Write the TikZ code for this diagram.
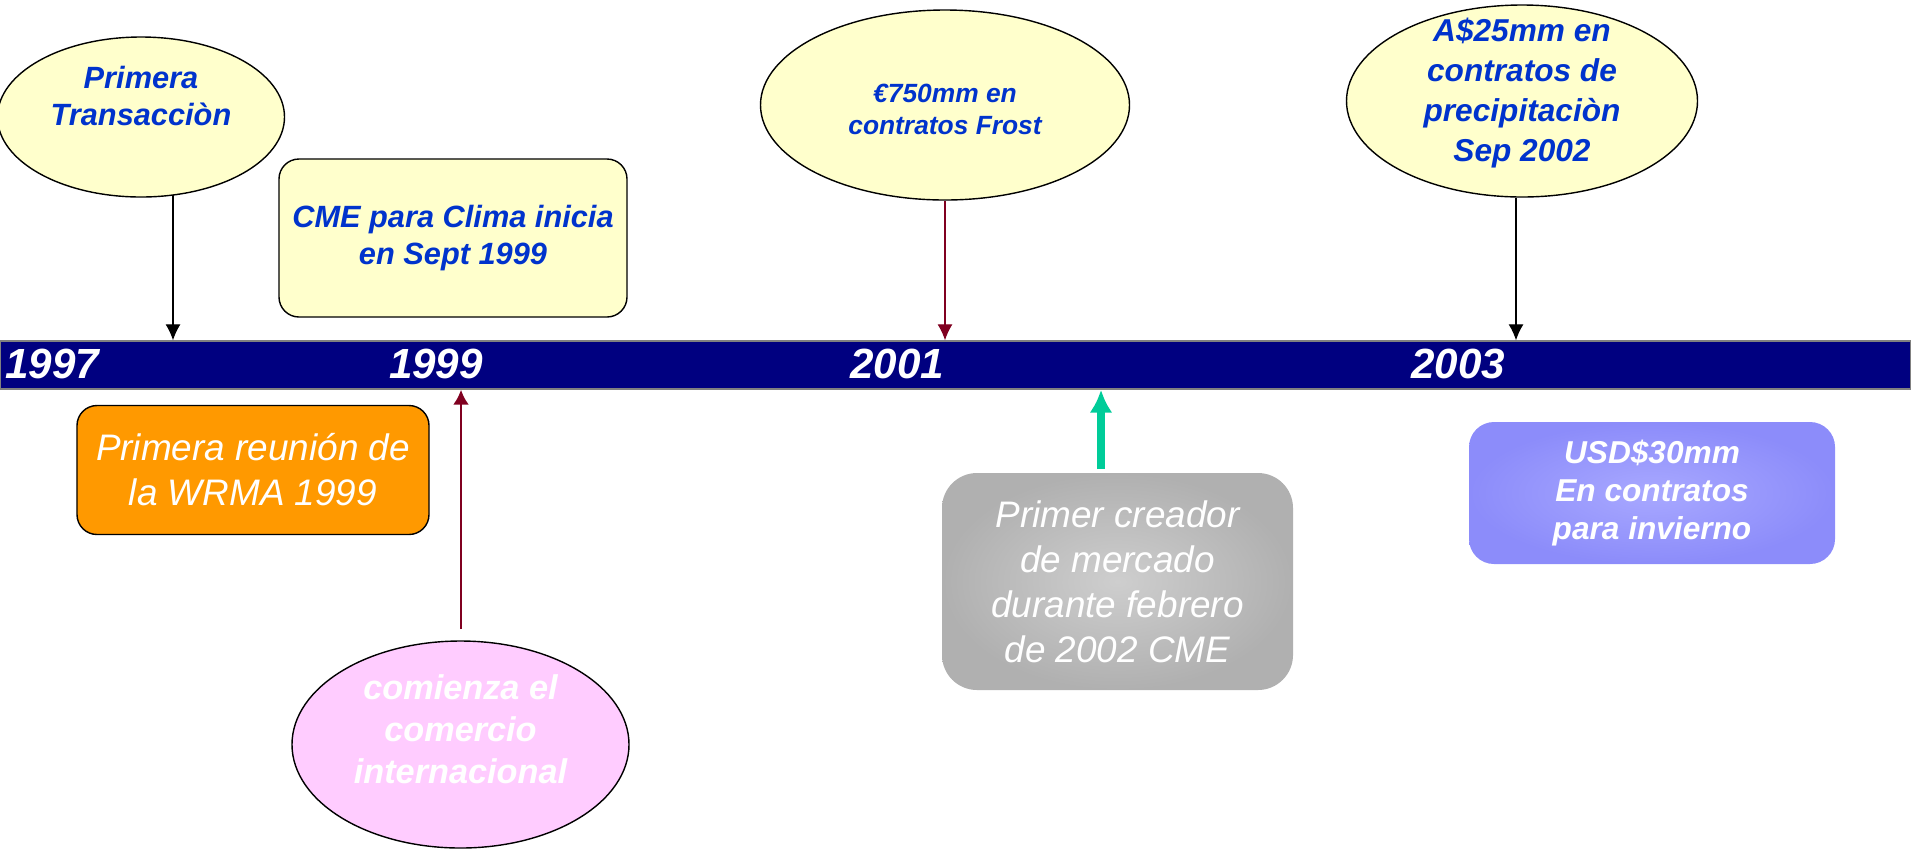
\documentclass[tikz,border=0pt]{standalone}
\usepackage{fontspec}
\setmainfont{Liberation Sans}
\usepackage{tikz}
\usetikzlibrary{arrows,arrows.meta,shapes,positioning}
\usepackage{xcolor}
\definecolor{tlnavy}{RGB}{0,0,128}
\definecolor{tlyellow}{RGB}{255,255,204}
\definecolor{tlblue}{RGB}{0,51,204}
\definecolor{tlorange}{RGB}{255,153,0}
\definecolor{tlpink}{RGB}{255,204,255}
\definecolor{tlred}{RGB}{128,0,32}
\definecolor{tlgreen}{RGB}{0,204,153}
\definecolor{tlgray}{RGB}{176,176,176}
\definecolor{tlgraylight}{RGB}{206,206,206}
\definecolor{tlviolet}{RGB}{140,140,250}
\definecolor{tlvioletlight}{RGB}{168,168,255}
\tikzstyle{arrow} = [-{Latex[length=3.2mm,width=3mm]}, line width=0.7pt, color=black]
\tikzstyle{redarrow} = [arrow, color=tlred]
\tikzstyle{thickred} = [-{Latex[length=3mm,width=3.2mm]}, line width=1.5pt, color=tlred]
\tikzstyle{greenarrow} = [-{Latex[length=4.6mm,width=4.6mm]}, line width=1.6mm, color=tlgreen]
\tikzstyle{timebar} = [rectangle, minimum width=382.2mm, minimum height=9.6mm, fill=tlnavy, draw=gray, thick]
\tikzstyle{yearlabel} = [text=white, inner sep=0pt, font=\fontsize{24}{28}\selectfont\bfseries\itshape]
\tikzstyle{bubble} = [ellipse, draw=black, thick, fill=tlyellow]
\tikzstyle{bluetext} = [text=tlblue, align=center, font=\fontsize{17.5}{21}\selectfont\bfseries\itshape]
\tikzstyle{note} = [rectangle, rounded corners=4mm, draw=black, thick, fill=tlyellow, inner sep=1pt, align=center]
\tikzstyle{whitetext} = [text=white, align=center, font=\fontsize{21}{25.6}\selectfont\itshape]

\begin{document}
\begin{tikzpicture}[x=0.2mm, y=-0.2mm]
\useasboundingbox (0,0) rectangle (1911,849);

% timeline
\node (bar) [timebar] at (955.5,365) {};
\node (y97) [yearlabel, anchor=west] at (5,364) {1997};
\node (y99) [yearlabel] at (436,364) {1999};
\node (y01) [yearlabel] at (897,364) {2001};
\node (y03) [yearlabel] at (1458,364) {2003};

% above the line
\node (first) [bubble, minimum width=57.4mm, minimum height=32mm,
  label={[bluetext, yshift=4.2mm]center:{Primera\\Transacciòn}}] at (141,117) {};
\node (cme) [note, minimum width=69.6mm, minimum height=31.6mm, bluetext] at (453,238)
  {CME para Clima inicia\\en Sept 1999};
\node (frost) [bubble, minimum width=73.8mm, minimum height=38mm,
  label={[bluetext, yshift=-0.8mm, font=\fontsize{15}{18.2}\selectfont\bfseries\itshape]center:{€750mm en\\contratos Frost}}] at (945,105) {};
\node (rain) [bubble, minimum width=70.2mm, minimum height=38.4mm,
  label={[bluetext, yshift=1.6mm, font=\fontsize{18}{22.8}\selectfont\bfseries\itshape]center:{A\$25mm en\\contratos de\\precipitaciòn\\Sep 2002}}] at (1522,101) {};

% below the line
\node (wrma) [note, fill=tlorange, minimum width=70.4mm, minimum height=25.8mm, whitetext] at (253,470)
  {Primera reunión de\\la WRMA 1999};
\node (intl) [ellipse, draw=black, thick, fill=tlpink, minimum width=67.4mm, minimum height=41.4mm,
  label={[text=white, align=center, yshift=3.1mm, font=\fontsize{19.5}{24}\selectfont\bfseries\itshape]center:{comienza el\\comercio\\internacional}}] at (460.5,744.5) {};
\node (maker) [rectangle, rounded corners=7mm, inner color=tlgraylight, outer color=tlgray,
  minimum width=70.2mm, minimum height=43.4mm, inner sep=1pt, whitetext] at (1117.5,581.5)
  {Primer creador\\de mercado\\durante febrero\\de 2002 CME};
\node (winter) [rectangle, rounded corners=5mm, inner color=tlvioletlight, outer color=tlviolet,
  minimum width=73.2mm, minimum height=28.4mm, inner sep=1pt, text=white, align=center,
  font=\fontsize{18}{21.8}\selectfont\bfseries\itshape] at (1652,493)
  {USD\$30mm\\En contratos\\para invierno};

% connectors
\coordinate (a97) at (173,195);
\draw[arrow] (a97) -- (a97 |- bar.north);
\draw[redarrow] (frost.south) -- (frost.south |- bar.north);
\coordinate (a03) at (1516,198);
\draw[arrow] (a03) -- (a03 |- bar.north);
\coordinate (a99) at (461,629);
\draw[thickred] (a99) -- (a99 |- bar.south);
\coordinate (a02) at (1101,469);
\draw[greenarrow] (a02) -- (a02 |- bar.south);
\end{tikzpicture}
\end{document}
